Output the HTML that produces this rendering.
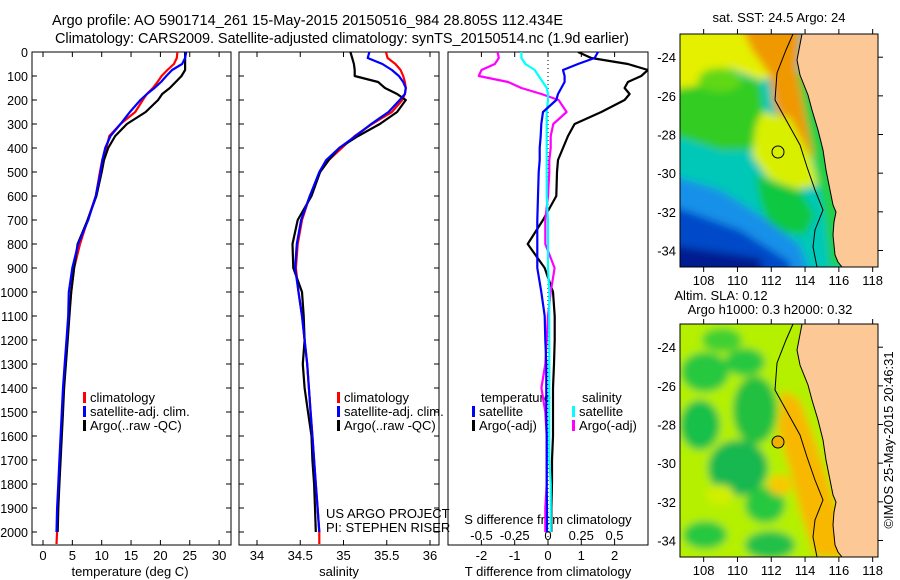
<!DOCTYPE html>
<html><head><meta charset="utf-8"><title>Argo profile</title>
<style>
html,body{margin:0;padding:0;background:#fff;}
svg{display:block;font-family:"Liberation Sans",sans-serif;}
text{fill:#000;}
</style></head>
<body>
<svg id="fig" width="900" height="580" viewBox="0 0 900 580" xmlns="http://www.w3.org/2000/svg">
<defs>
<filter id="blur" x="-10%" y="-10%" width="120%" height="120%"><feGaussianBlur stdDeviation="4"/></filter>
<clipPath id="m1clip"><rect x="680" y="34" width="198" height="233"/></clipPath>
<clipPath id="m2clip"><rect x="680" y="324" width="198" height="233"/></clipPath>
<clipPath id="p1clip"><rect x="32" y="52" width="199" height="493"/></clipPath>
<clipPath id="p2clip"><rect x="239" y="52" width="200" height="493"/></clipPath>
<clipPath id="p3clip"><rect x="448" y="52" width="200" height="493"/></clipPath>
</defs>
<text x="52" y="25" font-size="14.5" textLength="511">Argo profile: AO 5901714_261 15-May-2015 20150516_984 28.805S 112.434E</text>
<text x="55" y="43" font-size="14.5" textLength="574">Climatology: CARS2009. Satellite-adjusted climatology: synTS_20150514.nc (1.9d earlier)</text>

<!-- map 1 -->
<g>
<g clip-path="url(#m1clip)">
<g filter="url(#blur)">
<rect x="670" y="24" width="220" height="255" fill="#00c8b8"/>
<polygon points="670,24 795,24 785,75 760,80 730,68 700,88 670,95" fill="#e4f000"/>
<polygon points="670,90 700,85 730,72 760,82 765,120 750,150 720,150 690,140 670,135" fill="#30cc20"/>
<ellipse cx="720" cy="80" rx="22" ry="12" fill="#60d818"/>
<polygon points="740,24 802,24 797,70 806,110 815,150 812,158 790,135 774,105 770,75 752,50" fill="#f09800"/>
<polygon points="762,112 790,118 812,160 818,185 795,190 768,178 752,155 756,125" fill="#d8f000"/>
<polygon points="755,175 800,190 815,215 805,235 770,230 760,200" fill="#10c840"/>
<polygon points="670,175 720,190 760,215 800,245 812,279 670,279" fill="#1890e8"/>
<polygon points="670,205 740,230 790,262 790,279 670,279" fill="#0048c8"/>
<polygon points="670,245 760,258 765,279 670,279" fill="#001a90"/>
<polygon points="797,70 808,72 818,110 830,160 840,210 845,267 830,267 825,215 815,165 805,115" fill="#20d040"/>
</g>
<path d="M802,34 L797,60 L800,75 L808,95 L812,110 L818,130 L823,150 L826,170 L830,190 L833,205 L836,212 L834,222 L833,235 L835,255 L838,262 L842,267 L878,267 L878,34 Z" fill="#fcc896" stroke="#000" stroke-width="1"/>
<polyline points="793,34 786,50 777,73 775,100 790,127 800,145 807,167 815,190 823,210 815,230 813,247 817,267" fill="none" stroke="#000" stroke-width="1"/>
</g>
<circle cx="778" cy="152" r="6" fill="none" stroke="#000" stroke-width="1"/>
<rect x="680" y="34" width="198" height="233" fill="none" stroke="#000" stroke-width="1"/>
<text x="779" y="22" font-size="13" text-anchor="middle">sat. SST: 24.5 Argo: 24</text>
</g>

<!-- map 2 -->
<g>
<g clip-path="url(#m2clip)">
<g filter="url(#blur)">
<rect x="670" y="314" width="220" height="255" fill="#b4f000"/>
<ellipse cx="705" cy="372" rx="24" ry="20" fill="#28c840"/>
<ellipse cx="745" cy="362" rx="20" ry="14" fill="#28c840"/>
<ellipse cx="755" cy="410" rx="22" ry="34" fill="#20c040"/>
<ellipse cx="700" cy="425" rx="20" ry="25" fill="#18c048"/>
<ellipse cx="738" cy="468" rx="30" ry="28" fill="#18b850"/>
<ellipse cx="765" cy="505" rx="20" ry="18" fill="#28c840"/>
<ellipse cx="705" cy="535" rx="22" ry="14" fill="#28c840"/>
<ellipse cx="770" cy="545" rx="25" ry="14" fill="#20c048"/>
<ellipse cx="722" cy="340" rx="20" ry="12" fill="#40d030"/>
<ellipse cx="720" cy="495" rx="14" ry="10" fill="#d0f000"/>
<polygon points="782,390 800,400 815,440 828,480 840,520 845,557 815,557 800,510 790,470 778,430" fill="#f8b800"/>
<ellipse cx="780" cy="485" rx="12" ry="10" fill="#f8c800"/>
</g>
<path d="M802,324 L797,350 L800,365 L808,385 L812,400 L818,420 L823,440 L826,460 L830,480 L833,495 L836,502 L834,512 L833,525 L835,545 L838,552 L842,557 L878,557 L878,324 Z" fill="#fcc896" stroke="#000" stroke-width="1"/>
<polyline points="793,324 786,340 777,363 775,390 790,417 800,435 807,457 815,480 823,500 815,520 813,537 817,557" fill="none" stroke="#000" stroke-width="1"/>
</g>
<circle cx="778" cy="442" r="6" fill="#f0b000" stroke="#000" stroke-width="1"/>
<rect x="680" y="324" width="198" height="233" fill="none" stroke="#000" stroke-width="1"/>
<text x="721" y="300" font-size="13" text-anchor="middle">Altim. SLA: 0.12</text>
<text x="770" y="314" font-size="13" text-anchor="middle">Argo h1000: 0.3 h2000: 0.32</text>
</g>
<text x="0" y="0" font-size="13" text-anchor="middle" transform="translate(893,440) rotate(-90)">©IMOS 25-May-2015 20:46:31</text>
<g id="axes"></g>
<g id="series"></g>
</svg>

<script>
// ---- data ----
const depths = [0,25,50,75,100,125,150,175,200,250,300,350,400,450,500,600,700,800,900,1000,1100,1200,1300,1400,1500,1600,1700,1800,1900,2000,2050];
const tempClim = [22.9,22.8,22.3,21.2,20.2,19.5,18.7,17.7,17.0,15.7,13.2,11.3,10.8,10.1,9.7,9.0,7.6,6.3,5.3,4.8,4.4,4.1,3.8,3.5,3.3,3.1,2.9,2.7,2.5,2.4,2.3];
const tempSat = [24.4,24.2,23.7,22.0,21.0,20.1,19.0,17.7,16.6,14.8,13.2,11.5,10.6,10.1,9.8,9.0,7.7,6.0,5.0,4.4,4.3,4.0,3.7,3.4,3.2,3.0,2.8,2.6,2.4,2.3,null];
const tempArgo = [24.2,24.2,24.2,24.2,23.6,22.6,21.6,20.3,19.6,17.5,14.3,12.3,11.1,10.4,10.0,9.1,7.6,5.9,5.3,4.8,4.5,4.2,3.9,3.6,3.4,3.2,3.0,2.8,2.6,2.5,null];
const salClim = [35.49,35.51,35.60,35.66,35.69,35.71,35.72,35.71,35.68,35.56,35.33,35.13,34.98,34.83,34.73,34.61,34.52,34.47,34.45,34.48,34.52,34.55,34.58,34.60,34.62,34.64,34.66,34.68,34.70,34.72,34.72];
const salSat = [35.30,35.28,35.45,35.56,35.64,35.69,35.72,35.71,35.65,35.52,35.32,35.14,34.95,34.80,34.72,34.61,34.51,34.46,34.44,34.48,34.52,34.55,34.58,34.60,34.62,34.64,34.66,34.68,34.70,34.72,null];
const salArgo = [35.08,35.10,35.12,35.13,35.13,35.40,35.48,35.62,35.72,35.62,35.42,35.17,34.95,34.83,34.73,34.63,34.47,34.41,34.42,34.52,34.54,34.55,34.53,34.55,34.59,34.63,34.64,34.66,34.67,34.68,null];
const dTempSat = [1.5,1.4,0.9,0.45,0.5,0.5,0.4,0.3,0.25,-0.15,-0.2,-0.22,-0.25,-0.25,-0.28,-0.3,-0.32,-0.32,-0.32,-0.2,-0.1,-0.08,-0.05,-0.05,-0.05,-0.04,-0.04,-0.04,-0.03,-0.03,null];
const dTempArgo = [0.9,1.3,2.4,3.0,2.8,2.4,2.3,2.45,2.3,1.6,0.8,0.6,0.45,0.3,0.27,0.25,-0.15,-0.61,-0.1,0.15,0.2,0.2,0.18,0.15,0.15,0.15,0.12,0.12,0.1,0.1,null];
const dSalSat = [-0.2,-0.2,-0.17,-0.1,-0.07,-0.04,-0.01,0,0,-0.01,-0.01,-0.01,-0.01,-0.01,-0.01,-0.01,0,0,0,0.01,0.01,0.01,0.01,0.01,0.01,0.01,0.01,0.02,0.02,0.02,null];
const dSalArgo = [-0.38,-0.37,-0.4,-0.5,-0.52,-0.3,-0.2,-0.05,0.08,0.14,0.04,0.02,0.02,0.01,0.01,0,-0.02,-0.02,0.05,0.02,0,-0.01,-0.02,-0.05,-0.02,-0.01,-0.01,-0.01,-0.02,-0.02,null];
const depthTicks = [0,100,200,300,400,500,600,700,800,900,1000,1100,1200,1300,1400,1500,1600,1700,1800,1900,2000];
const tempTicks = [0,5,10,15,20,25,30];
const salTicks = [34,34.5,35,35.5,36];
const dTempTicks = [-2,-1,0,1,2];
const dSalTicks = [-0.5,-0.25,0,0.25,0.5];
const lonTicks = [108,110,112,114,116,118];
const latTicks = [-24,-26,-28,-30,-32,-34];

// ---- scales ----
const yD = d => 52 + d*0.24;
const xT = t => 43 + t*5.87;
const xS = s => 257 + (s-34)*86.5;
const xdT = v => 548 + v*33.3;
const xdS = v => 548 + v*133;
const xLon = l => 680 + (l-106.6)*16.9;
const yLat = (la,off) => off + 34 + (-22.8-la)*19.33;

const NS = "http://www.w3.org/2000/svg";
const axes = document.getElementById('axes');
const series = document.getElementById('series');
function mk(tag, attrs, parent, txt){
  const e = document.createElementNS(NS, tag);
  for (const k in attrs) e.setAttribute(k, attrs[k]);
  if (txt !== undefined) e.textContent = txt;
  parent.appendChild(e);
  return e;
}
function line(x1,y1,x2,y2,p,extra){ return mk('line',Object.assign({x1,y1,x2,y2,stroke:'#000','stroke-width':1},extra||{}),p); }

const panels = [[32,231,'temperature-panel'],[239,439,'salinity-panel'],[448,648,'difference-panel']];
panels.forEach(p=>{
  const r = mk('rect',{x:p[0],y:52,width:p[1]-p[0],height:493,fill:'none',stroke:'#000','stroke-width':1},axes);
  
  
});
depthTicks.forEach(d=>{
  const y = yD(d);
  [[32,1],[231,-1],[239,1],[439,-1]].forEach(([x,s])=>line(x,y,x+5*s,y,axes));
  const t = mk('text',{x:28,y:y+5,'font-size':12.5,'text-anchor':'end'},axes,String(d));
  
  
});
tempTicks.forEach(v=>{
  const x = xT(v);
  line(x,52,x,57,axes); line(x,545,x,540,axes);
  const t = mk('text',{x:x,y:560,'font-size':13,'text-anchor':'middle'},axes,String(v));
  
  
});
salTicks.forEach(v=>{
  const x = xS(v);
  line(x,52,x,57,axes); line(x,545,x,540,axes);
  const t = mk('text',{x:x,y:560,'font-size':13,'text-anchor':'middle'},axes,String(v));
  
  
});
dTempTicks.forEach(v=>{
  const x = xdT(v);
  line(x,52,x,57,axes); line(x,545,x,540,axes);
  const t = mk('text',{x:x,y:560,'font-size':13,'text-anchor':'middle'},axes,String(v));
  
  
});
dSalTicks.forEach(v=>{
  const x = xdS(v);
  const t = mk('text',{x:x,y:540,'font-size':13,'text-anchor':'middle'},axes,String(v));
  
  
});
const zl = line(548,52,548,545,axes,{'stroke-dasharray':'1,3'});



[[130,576,'temperature (deg C)','temperature-axis-title'],[339,576,'salinity','salinity-axis-title'],[548,576,'T difference from climatology','t-difference-axis-title'],[548,524,'S difference from climatology','s-difference-axis-title']].forEach(a=>{
  const t = mk('text',{x:a[0],y:a[1],'font-size':13,'text-anchor':'middle'},axes,a[2]);
  
  
});
[[326,518,'US ARGO PROJECT'],[326,532,'PI: STEPHEN RISER']].forEach(a=>{
  const t = mk('text',{x:a[0],y:a[1],'font-size':13},axes,a[2]);
  
  
});

function legendEntry(x,y,color,label){
  const g = mk('g',{},axes);
  
  
  mk('rect',{x:x,y:y-10,width:3,height:11,fill:color},g);
  mk('text',{x:x+7,y:y,'font-size':13},g,label);
}
[[83,'climatology','#ff0000'],[83,'satellite-adj. clim.','#0000ff'],[83,'Argo(..raw -QC)','#000']].forEach((e,i)=>legendEntry(e[0],402+14*i,e[2],e[1]));
[[337,'climatology','#ff0000'],[337,'satellite-adj. clim.','#0000ff'],[337,'Argo(..raw -QC)','#000']].forEach((e,i)=>legendEntry(e[0],402+14*i,e[2],e[1]));
[['temperature',481,402],['salinity',582,402]].forEach(a=>{
  const t = mk('text',{x:a[1],y:a[2],'font-size':13},axes,a[0]);
  
  
});
legendEntry(472,416,'#0000ff','satellite');
legendEntry(472,430,'#000','Argo(-adj)');
legendEntry(572,416,'#00ffff','satellite');
legendEntry(572,430,'#ff00ff','Argo(-adj)');

function drawSeries(vals, xf, color, clip, name){
  let pts = [];
  vals.forEach((v,i)=>{ if (v!==null) pts.push(xf(v).toFixed(1)+','+yD(depths[i]).toFixed(1)); });
  const pl = mk('polyline',{points:pts.join(' '),fill:'none',stroke:color,'stroke-width':2.2,'stroke-linejoin':'round','clip-path':'url(#'+clip+')'},series);
  
  
}
drawSeries(tempClim, xT, '#ff0000', 'p1clip', 'temperature-climatology-line');
drawSeries(tempArgo, xT, '#000000', 'p1clip', 'temperature-argo-line');
drawSeries(tempSat, xT, '#0000ff', 'p1clip', 'temperature-satellite-line');
drawSeries(salClim, xS, '#ff0000', 'p2clip', 'salinity-climatology-line');
drawSeries(salArgo, xS, '#000000', 'p2clip', 'salinity-argo-line');
drawSeries(salSat, xS, '#0000ff', 'p2clip', 'salinity-satellite-line');
drawSeries(dTempArgo, xdT, '#000000', 'p3clip', 't-difference-argo-line');
drawSeries(dSalArgo, xdS, '#ff00ff', 'p3clip', 's-difference-argo-line');
drawSeries(dSalSat, xdS, '#00ffff', 'p3clip', 's-difference-satellite-line');
drawSeries(dTempSat, xdT, '#0000ff', 'p3clip', 't-difference-satellite-line');

[0,290].forEach((off)=>{
  lonTicks.forEach(l=>{
    const x = xLon(l);
    line(x,off+34,x,off+29,axes); line(x,off+267,x,off+272,axes);
    const t = mk('text',{x:x,y:off+285,'font-size':13,'text-anchor':'middle'},axes,String(l));
    
    
  });
  latTicks.forEach(la=>{
    const y = yLat(la,off);
    line(878,y,883,y,axes);
    const t = mk('text',{x:676,y:y+5,'font-size':13,'text-anchor':'end'},axes,String(la));
    
    
  });
});
</script>
</body></html>
